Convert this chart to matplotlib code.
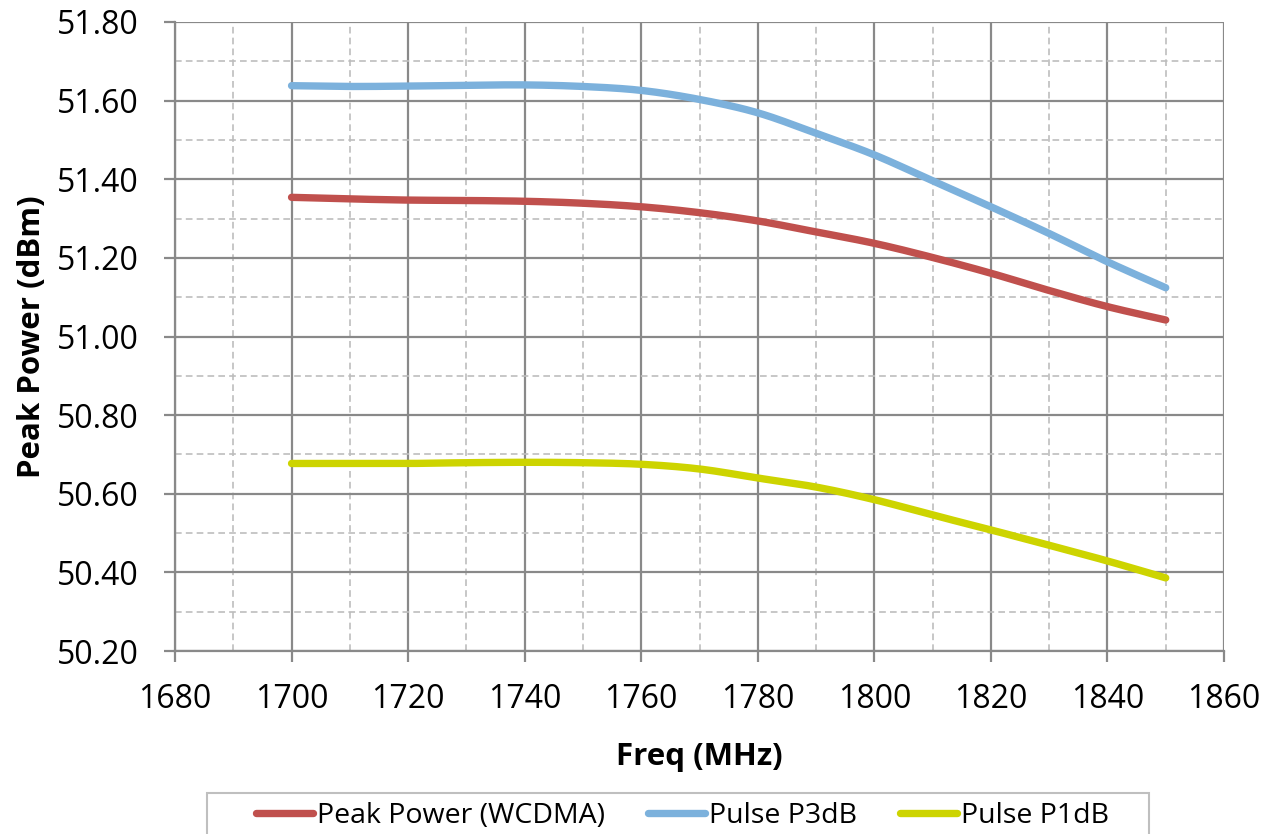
import numpy as np
import matplotlib
matplotlib.use("Agg")
import matplotlib.pyplot as plt
from matplotlib.ticker import MultipleLocator, FormatStrFormatter
from matplotlib.lines import Line2D
from matplotlib.patches import Rectangle

freq = [1700, 1710, 1720, 1730, 1740, 1750, 1760, 1770, 1780, 1790, 1800, 1810, 1820, 1830, 1840, 1850]
peak_wcdma = [51.354, 51.350, 51.347, 51.346, 51.344, 51.339, 51.330, 51.315, 51.294, 51.266, 51.237, 51.201, 51.161, 51.117, 51.076, 51.042]
pulse_p3db = [51.638, 51.636, 51.637, 51.639, 51.640, 51.636, 51.626, 51.603, 51.569, 51.517, 51.462, 51.396, 51.330, 51.262, 51.190, 51.124]
pulse_p1db = [50.677, 50.677, 50.677, 50.679, 50.680, 50.679, 50.675, 50.663, 50.640, 50.617, 50.585, 50.546, 50.508, 50.469, 50.429, 50.386]

series_names = ["Peak Power (WCDMA)", "Pulse P3dB", "Pulse P1dB"]
colors = ["#C0504D", "#7CB1DC", "#CDD400"]


def smooth(x, y, n=20):
    # Catmull-Rom style smoothing (like Excel's smoothed line) for drawing only
    x = np.asarray(x, float); y = np.asarray(y, float)
    xs, ys = [], []
    for i in range(len(x) - 1):
        p0 = np.array([x[max(i - 1, 0)], y[max(i - 1, 0)]])
        p1 = np.array([x[i], y[i]])
        p2 = np.array([x[i + 1], y[i + 1]])
        p3 = np.array([x[min(i + 2, len(x) - 1)], y[min(i + 2, len(x) - 1)]])
        c1 = p1 + (p2 - p0) / 6.0
        c2 = p2 - (p3 - p1) / 6.0
        t = np.linspace(0, 1, n, endpoint=(i == len(x) - 2))[:, None]
        pts = ((1 - t) ** 3) * p1 + 3 * ((1 - t) ** 2) * t * c1 + 3 * (1 - t) * t ** 2 * c2 + t ** 3 * p2
        xs.extend(pts[:, 0]); ys.extend(pts[:, 1])
    return np.array(xs), np.array(ys)


plt.rcParams['font.family'] = ['Open Sans', 'DejaVu Sans']

W, H = 1274, 834
fig = plt.figure(figsize=(W / 100, H / 100), dpi=100)
ax = fig.add_axes([175 / W, 1 - 651 / H, (1224 - 175) / W, (651 - 22) / H])

for vals, c in zip([peak_wcdma, pulse_p3db, pulse_p1db], colors):
    sx, sy = smooth(freq, vals)
    ax.plot(sx, sy, color=c, lw=5.3, solid_capstyle='round', zorder=3)

ax.set_xlim(1680, 1860)
ax.set_ylim(50.20, 51.80)
ax.xaxis.set_major_locator(MultipleLocator(20))
ax.xaxis.set_minor_locator(MultipleLocator(10))
ax.yaxis.set_major_locator(MultipleLocator(0.2))
ax.yaxis.set_minor_locator(MultipleLocator(0.1))
ax.yaxis.set_major_formatter(FormatStrFormatter('%.2f'))

ax.grid(which='major', color='#898989', lw=1.6, ls='-', zorder=1)
ax.grid(which='minor', color='#BDBDBD', lw=1.2, ls=(0, (4, 2.5)), zorder=1)

for s in ['top', 'right']:
    ax.spines[s].set_visible(False)
for s in ['left', 'bottom']:
    ax.spines[s].set_color('#898989')
    ax.spines[s].set_linewidth(1.6)

ax.tick_params(which='major', length=8, width=1.6, color='#898989', labelsize=23, labelcolor='black')
ax.tick_params(axis='y', which='major', pad=18)
ax.tick_params(axis='x', which='major', pad=15)
ax.tick_params(which='minor', length=0)

ax.set_xlabel("Freq (MHz)", fontsize=22.5, fontweight='bold', labelpad=19)
ax.set_ylabel("Peak Power (dBm)", fontsize=22.5, fontweight='bold', labelpad=7)

# legend frame (partly cut off at the bottom edge, as in the reference)
fig.patches.append(Rectangle((207 / W, -0.05), (1149 - 207) / W, 0.05 + (834 - 793) / H,
                             transform=fig.transFigure, fill=False, edgecolor='#BFBFBF', lw=1.5))

handles = [Line2D([0], [0], color=c, lw=5.3, solid_capstyle='round') for c in colors]
leg = fig.legend(handles, series_names, loc='center left', bbox_to_anchor=(256 / W, 1 - 816 / H),
                 ncol=3, frameon=False, fontsize=20.5, handlelength=2.0, handletextpad=0.15,
                 columnspacing=1.5, borderpad=0, borderaxespad=0)

fig.savefig("out.png", dpi=100)
